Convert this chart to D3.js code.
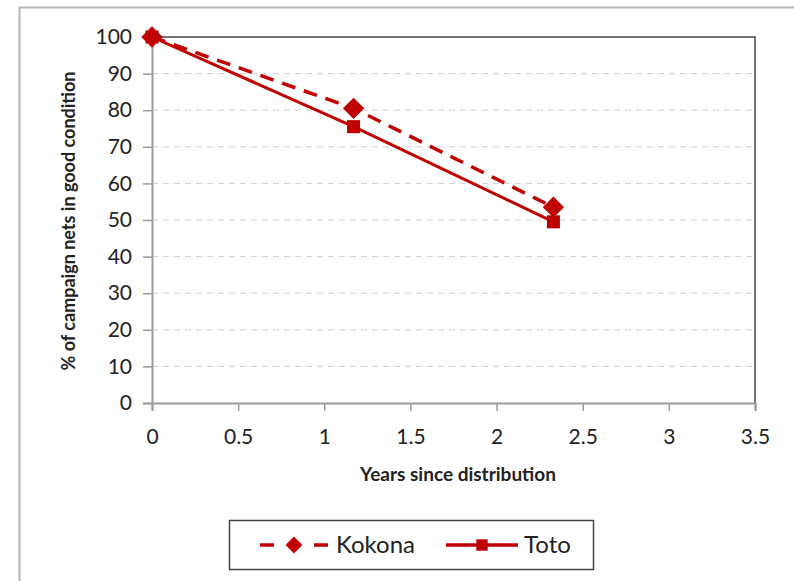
<!DOCTYPE html>
<html>
<head>
<meta charset="utf-8">
<script src="https://cdn.jsdelivr.net/npm/d3@7"></script>
<style>
  body { margin: 0; background: #fff; }
  text { font-family: Lato, "Open Sans", sans-serif; fill: #222; }
</style>
</head>
<body>
<script>
var years = [0, 1.17, 2.33];
var kokona = [100, 80.5, 53.5];
var toto = [100, 75.5, 49.5];
var seriesNames = ['Kokona', 'Toto'];
var xTicks = [0, 0.5, 1, 1.5, 2, 2.5, 3, 3.5];
var yTicks = [0, 10, 20, 30, 40, 50, 60, 70, 80, 90, 100];

var screen = {width: 794, height: 581};
var margin = {top: 37, right: 39, bottom: 178, left: 152};
var red = '#C00000';

var svg = d3.select('body').append('svg')
    .attr('width', screen.width)
    .attr('height', screen.height)
    .style('display', 'block');

// outer frame
svg.append('rect')
    .attr('x', 19.5).attr('y', 7.5)
    .attr('width', 800).attr('height', 600)
    .attr('fill', 'none')
    .attr('stroke', '#b5b5b5')
    .attr('stroke-width', 2);

// scales
var xScale = d3.scaleLinear()
    .domain([0, 3.5])
    .range([margin.left, screen.width - margin.right]);

var yScale = d3.scaleLinear()
    .domain([0, 100])
    .range([screen.height - margin.bottom, margin.top]);

// gridlines
svg.append('g')
    .selectAll('line')
    .data(yTicks.slice(1, -1))
    .enter()
    .append('line')
    .attr('x1', xScale(0))
    .attr('x2', xScale(3.5))
    .attr('y1', function(d) { return yScale(d) })
    .attr('y2', function(d) { return yScale(d) })
    .attr('stroke', '#d0d0d0')
    .attr('stroke-dasharray', '6,5');

// top and right border of plot
svg.append('path')
    .attr('d', 'M' + xScale(0) + ',' + yScale(100) + 'H' + xScale(3.5) + 'V' + yScale(0))
    .attr('fill', 'none')
    .attr('stroke', '#444')
    .attr('stroke-width', 1.5);

// y-axis
var yAxis = d3.axisLeft(yScale)
    .tickValues(yTicks)
    .tickSize(9)
    .tickPadding(11);
var gy = svg.append('g')
    .attr('transform', 'translate(' + xScale(0) + ',0)')
    .call(yAxis);
gy.select('.domain').attr('stroke', '#9a9a9a').attr('stroke-width', 2);
gy.selectAll('.tick line').attr('stroke', '#9a9a9a').attr('stroke-width', 1.5);
gy.selectAll('.tick text').style('font-size', '21px').attr('fill', '#222');

// x-axis
var xAxis = d3.axisBottom(xScale)
    .tickValues(xTicks)
    .tickSize(8)
    .tickPadding(18)
    .tickFormat(d3.format('~g'));
var gx = svg.append('g')
    .attr('transform', 'translate(0,' + yScale(0) + ')')
    .call(xAxis);
gx.select('.domain').attr('stroke', '#9a9a9a').attr('stroke-width', 2);
gx.selectAll('.tick line').attr('stroke', '#9a9a9a').attr('stroke-width', 1.5);
gx.selectAll('.tick text').style('font-size', '21px').attr('fill', '#222');

// axis titles
svg.append('text')
    .attr('x', 458)
    .attr('y', 481)
    .attr('text-anchor', 'middle')
    .style('font-size', '19px')
    .style('font-weight', 'bold')
    .text('Years since distribution');

svg.append('text')
    .attr('transform', 'translate(75,' + 221 + ') rotate(-90)')
    .attr('text-anchor', 'middle')
    .style('font-size', '18px')
    .style('font-weight', 'bold')
    .text('% of campaign nets in good condition');

// lines
var line = d3.line()
    .x(function(d, i) { return xScale(years[i]) })
    .y(function(d) { return yScale(d) });

svg.append('path')
    .datum(toto)
    .attr('d', line)
    .attr('fill', 'none')
    .attr('stroke', red)
    .attr('stroke-width', 3);

svg.append('path')
    .datum(kokona)
    .attr('d', line)
    .attr('fill', 'none')
    .attr('stroke', red)
    .attr('stroke-width', 3.5)
    .attr('stroke-dasharray', '14,9');

// markers
var diamond = d3.symbol().type(d3.symbolDiamond2).size(290);
var square = d3.symbol().type(d3.symbolSquare).size(170);

svg.append('g')
    .selectAll('path')
    .data(toto)
    .enter()
    .append('path')
    .attr('d', square)
    .attr('transform', function(d, i) { return 'translate(' + xScale(years[i]) + ',' + yScale(d) + ')' })
    .attr('fill', red);

svg.append('g')
    .selectAll('path')
    .data(kokona)
    .enter()
    .append('path')
    .attr('d', diamond)
    .attr('transform', function(d, i) { return 'translate(' + xScale(years[i]) + ',' + yScale(d) + ')' })
    .attr('fill', red);

// legend
var legend = svg.append('g');
legend.append('rect')
    .attr('x', 229.5).attr('y', 520.5)
    .attr('width', 364).attr('height', 49)
    .attr('fill', '#fff')
    .attr('stroke', '#444')
    .attr('stroke-width', 1.5);

var ly = 545;
// Kokona entry
legend.append('line')
    .attr('x1', 260).attr('x2', 328).attr('y1', ly).attr('y2', ly)
    .attr('stroke', red).attr('stroke-width', 3.5)
    .attr('stroke-dasharray', '14,13');
legend.append('path')
    .attr('d', d3.symbol().type(d3.symbolDiamond2).size(180))
    .attr('transform', 'translate(294,' + ly + ')')
    .attr('fill', red);
legend.append('text')
    .attr('x', 336).attr('y', ly + 8)
    .style('font-size', '24px')
    .text(seriesNames[0]);

// Toto entry
legend.append('line')
    .attr('x1', 446).attr('x2', 518).attr('y1', ly).attr('y2', ly)
    .attr('stroke', red).attr('stroke-width', 3.5);
legend.append('path')
    .attr('d', d3.symbol().type(d3.symbolSquare).size(130))
    .attr('transform', 'translate(482,' + ly + ')')
    .attr('fill', red);
legend.append('text')
    .attr('x', 524).attr('y', ly + 8)
    .style('font-size', '24px')
    .text(seriesNames[1]);
</script>
</body>
</html>
